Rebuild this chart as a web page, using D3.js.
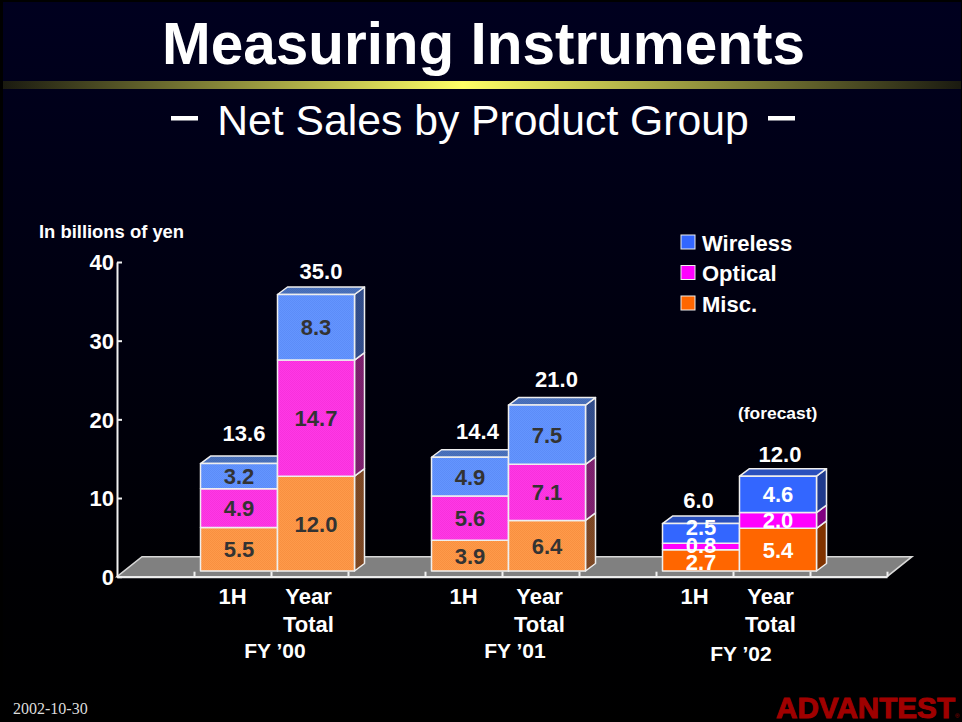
<!DOCTYPE html>
<html>
<head>
<meta charset="utf-8">
<script src="https://cdn.jsdelivr.net/npm/d3@7"></script>
<style>
  html, body { margin: 0; padding: 0; background: #000; }
  svg { display: block; }
  text { font-family: "Liberation Sans", Arial, sans-serif; fill: #fff; }
  .bold { font-weight: bold; }
</style>
</head>
<body>
<svg id="chart" width="962" height="722"></svg>
<script>
// one slot per band, empty slots are the gaps between fiscal years
const categories = ['', '1H', 'Year Total', '', '1H', 'Year Total', '', '1H', 'Year Total', '']
const fiscalYears = ["FY \u201900", "FY \u201901", "FY \u201902"]
const seriesNames = ['Misc.', 'Optical', 'Wireless']
const legendNames = ['Wireless', 'Optical', 'Misc.']

const misc = [null, 5.5, 12.0, null, 3.9, 6.4, null, 2.7, 5.4, null]
const optical = [null, 4.9, 14.7, null, 5.6, 7.1, null, 0.8, 2.0, null]
const wireless = [null, 3.2, 8.3, null, 4.9, 7.5, null, 2.5, 4.6, null]
const totals = [null, 13.6, 35.0, null, 14.4, 21.0, null, 6.0, 12.0, null]
const yTicks = [0, 10, 20, 30, 40]

// totals were placed by hand on the slide
const totalGap = [0, 22.4, 15.2, 0, 17.8, 17.9, 0, 15.8, 14, 0]
const totalShift = [0, 5, 5, 0, 7.5, 9.5, 0, -2.5, 2, 0]
// thin segments of the 6.0 bar push their labels apart (misc, optical, wireless)
const crowdedNudge = [2, -1.4, -6]

const svg = d3.select('#chart')
const defs = svg.append('defs')

const bgGrad = defs.append('linearGradient').attr('id', 'bg').attr('x2', 0).attr('y2', 1)
bgGrad.append('stop').attr('offset', 0).attr('stop-color', '#00001f')
bgGrad.append('stop').attr('offset', 0.8).attr('stop-color', '#000003')
bgGrad.append('stop').attr('offset', 1).attr('stop-color', '#000')

const barGrad = defs.append('linearGradient').attr('id', 'rule')
barGrad.append('stop').attr('offset', 0).attr('stop-color', '#1a1a10')
barGrad.append('stop').attr('offset', 0.48).attr('stop-color', '#ffff66')
barGrad.append('stop').attr('offset', 1).attr('stop-color', '#1a1a10')

svg.append('rect').attr('width', 962).attr('height', 722).attr('fill', '#000')
svg.append('rect').attr('x', 3).attr('y', 2).attr('width', 958).attr('height', 720).attr('fill', 'url(#bg)')
svg.append('rect').attr('x', 3).attr('y', 81).attr('width', 958).attr('height', 8).attr('fill', 'url(#rule)')

svg.append('text').attr('class', 'bold').attr('x', 162).attr('y', 64)
  .attr('textLength', 643).attr('lengthAdjust', 'spacingAndGlyphs')
  .style('font-size', '59.5px').text('Measuring Instruments')
svg.append('text').attr('x', 483).attr('y', 135)
  .attr('text-anchor', 'middle').style('font-size', '42.7px').text('Net Sales by Product Group')
svg.selectAll('.dash').data([171, 768]).join('rect').attr('class', 'dash')
  .attr('x', d => d).attr('y', 116).attr('width', 27).attr('height', 4.5).attr('fill', '#fff')

// scales
const x = d3.scaleBand().domain(d3.range(categories.length)).range([117, 887]).padding(0)
const tickScale = d3.scaleLinear().domain([0, categories.length]).range([117, 887])
const y = d3.scaleLinear().domain([0, 40]).range([576.7, 262])
// bars stand further back on the floor so they read a bit larger than the axis
const barY = d3.scaleLinear().domain([0, 40]).range([571, 255])

// depth of the fake 3D
const floorDx = 25, floorDy = 20
const barDx = 10, barDy = 7.5
const liftX = 6.5

// floor
const floor = [[0, 0], [floorDx, -floorDy], [770 + floorDx, -floorDy], [770, 0]]
svg.append('polygon')
  .attr('points', floor.map(p => [x.range()[0] + p[0], y(0) + p[1]].join(',')).join(' '))
  .attr('fill', '#808080').attr('stroke', '#d8d8d8').attr('stroke-width', 1.5)

// axes
function styleAxis(g) {
  g.selectAll('path, line').attr('stroke', '#f0f0f0').attr('stroke-width', 2)
  g.selectAll('text').attr('fill', '#fff').style('font-family', '"Liberation Sans", Arial, sans-serif')
    .style('font-size', '22px').style('font-weight', 'bold')
}

svg.append('g').attr('transform', 'translate(117,0)')
  .call(d3.axisLeft(y).tickValues(yTicks).tickSize(-5).tickSizeOuter(0).tickPadding(5).tickFormat(d3.format('d')))
  .call(styleAxis)
  .call(g => g.selectAll('text').attr('x', -3).attr('dy', '0.36em'))

svg.append('g').attr('transform', 'translate(0,' + y(0) + ')')
  .call(d3.axisBottom(tickScale).tickValues(d3.range(1, categories.length + 1)).tickSize(-5).tickSizeOuter(0).tickFormat(''))
  .call(styleAxis)

// category labels, second word goes on its own line
const catLabels = svg.append('g')
categories.forEach(function(cat, i) {
  cat.split(' ').forEach(function(word, j) {
    if (!word) return
    catLabels.append('text').attr('class', 'bold')
      .attr('x', x(i) + x.bandwidth() / 2 + (word === '1H' ? 0 : -1))
      .attr('y', 604 + j * 28)
      .attr('text-anchor', 'middle').style('font-size', '22px').text(word)
  })
})

svg.selectAll('.fy').data(fiscalYears).join('text').attr('class', 'fy bold')
  .attr('x', (d, i) => x(1 + i * 3) + x.bandwidth() + [4, 13, 8][i])
  .attr('y', (d, i) => i === 2 ? 661 : 658)
  .attr('text-anchor', 'middle').style('font-size', '21px').text(d => d)

// faded look of the first two years is a 2px dither on the slide
function dither(id, a, b) {
  const p = defs.append('pattern').attr('id', id).attr('width', 2).attr('height', 2)
    .attr('patternUnits', 'userSpaceOnUse')
  p.append('rect').attr('width', 2).attr('height', 2).attr('fill', a)
  p.append('rect').attr('width', 1).attr('height', 1).attr('fill', b)
  p.append('rect').attr('x', 1).attr('y', 1).attr('width', 1).attr('height', 1).attr('fill', b)
  return 'url(#' + id + ')'
}

const solid = {
  'Wireless': { front: '#3366ff', side: '#1f3a8c', top: '#2a50bd' },
  'Optical': { front: '#ff00ff', side: '#800080', top: '#800080' },
  'Misc.': { front: '#ff6600', side: '#803300', top: '#803300' }
}
const faded = {
  'Wireless': { front: dither('fw', '#6495ff', '#5c8cf8'), side: dither('sw', '#35508c', '#2f4a88'), top: dither('tw', '#4c73bd', '#456cb6') },
  'Optical': { front: dither('fo', '#ff38e6', '#f830dc'), side: dither('so', '#802270', '#78206a'), top: dither('to', '#802270', '#78206a') },
  'Misc.': { front: dither('fm', '#ff9a4a', '#f89040'), side: dither('sm', '#804a26', '#784522'), top: dither('tm', '#804a26', '#784522') }
}

// stacked bars
const rows = categories.map((c, i) => ({ i: i, 'Misc.': misc[i], 'Optical': optical[i], 'Wireless': wireless[i] }))
const stacked = d3.stack().keys(seriesNames).value((d, k) => d[k] || 0)(rows)

const bars = svg.append('g')
const hasBar = categories.map((c, i) => totals[i] !== null)

hasBar.forEach(function(on, i) {
  if (!on) return
  const left = x(i) + liftX
  const right = left + x.bandwidth()
  const palette = i < 6 ? faded : solid

  stacked.forEach(function(layer, s) {
    const name = layer.key
    const seg = layer[i]
    const y0 = barY(seg[0])
    const y1 = barY(seg[1])
    const g = bars.append('g').attr('stroke', '#eee').attr('stroke-width', 1.5).attr('stroke-linejoin', 'round')

    g.append('polygon')
      .attr('points', [[right, y0], [right + barDx, y0 - barDy], [right + barDx, y1 - barDy], [right, y1]].join(' '))
      .attr('fill', palette[name].side)

    if (s === stacked.length - 1) {
      g.append('polygon')
        .attr('points', [[left, y1], [left + barDx, y1 - barDy], [right + barDx, y1 - barDy], [right, y1]].join(' '))
        .attr('fill', palette[name].top)
    }

    g.append('rect')
      .attr('x', left).attr('y', y1).attr('width', x.bandwidth()).attr('height', y0 - y1)
      .attr('fill', palette[name].front)
  })
})

// value labels go on top of every bar so the next bar can't cover them
hasBar.forEach(function(on, i) {
  if (!on) return
  const left = x(i) + liftX
  stacked.forEach(function(layer, s) {
    const seg = layer[i]
    bars.append('text').attr('class', 'bold')
      .attr('x', left + x.bandwidth() / 2)
      .attr('y', (barY(seg[0]) + barY(seg[1])) / 2 + 8 + (i === 7 ? crowdedNudge[s] : 0))
      .attr('text-anchor', 'middle').style('font-size', '22px')
      .style('fill', i < 6 ? '#333' : '#fff')
      .text(d3.format('.1f')(seg[1] - seg[0]))
  })
  bars.append('text').attr('class', 'bold')
    .attr('x', left + x.bandwidth() / 2 + totalShift[i])
    .attr('y', barY(totals[i]) - totalGap[i])
    .attr('text-anchor', 'middle').style('font-size', '22px')
    .text(d3.format('.1f')(totals[i]))
})

// legend
const legendFill = { 'Wireless': '#3366ff', 'Optical': '#ff00ff', 'Misc.': '#ff6600' }
const legend = svg.selectAll('.legend').data(legendNames).join('g').attr('class', 'legend')
  .attr('transform', (d, i) => 'translate(681,' + (235 + i * 30.5) + ')')
legend.append('rect').attr('width', 14).attr('height', 14)
  .attr('fill', d => legendFill[d]).attr('stroke', '#eee').attr('stroke-width', 1)
legend.append('text').attr('class', 'bold').attr('x', 21).attr('y', 15.5)
  .style('font-size', '22px').text(d => d)

// side notes
svg.append('text').attr('class', 'bold').attr('x', 39).attr('y', 238)
  .style('font-size', '18.4px').text('In billions of yen')
svg.append('text').attr('class', 'bold').attr('x', 738).attr('y', 419)
  .style('font-size', '17.4px').text('(forecast)')
svg.append('text').attr('x', 13).attr('y', 714)
  .style('font-family', '"Liberation Serif", serif').style('font-size', '16px').style('fill', '#ddd').text('2002-10-30')

// logo
svg.append('text').attr('x', 776).attr('y', 717.5)
  .attr('textLength', 179).attr('lengthAdjust', 'spacingAndGlyphs')
  .style('font-size', '30px').style('font-weight', 'bold')
  .style('fill', '#a00000').style('stroke', '#a00000').style('stroke-width', 1).text('ADVANTEST')
svg.append('text').attr('x', 955).attr('y', 718)
  .style('font-size', '6px').style('fill', '#a00000').text('\u00ae')
</script>
</body>
</html>
